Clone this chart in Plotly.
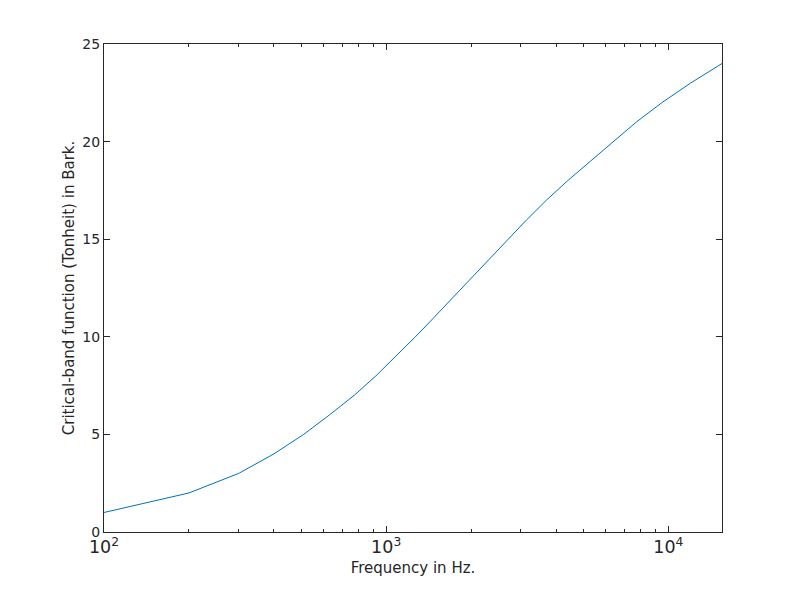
import plotly.graph_objects as go

freq_hz = [100, 200, 300, 400, 510, 630, 770, 920, 1080, 1270, 1480, 1720, 2000,
           2320, 2700, 3150, 3700, 4400, 5300, 6400, 7700, 9500, 12000, 15500]
bark = [1, 2, 3, 4, 5, 6, 7, 8, 9, 10, 11, 12, 13, 14, 15, 16, 17, 18, 19, 20,
        21, 22, 23, 24]
y_ticks = [0, 5, 10, 15, 20, 25]

FONT = "DejaVu Sans"
C = "#262626"
XRANGE = [2, 4.1903]

fig = go.Figure()
fig.add_trace(go.Scatter(x=freq_hz, y=bark, mode="lines",
                         line=dict(color="#0072BD", width=1), hoverinfo="skip"))

fig.update_layout(
    width=800, height=600, plot_bgcolor="white", paper_bgcolor="white",
    showlegend=False, margin=dict(l=96, r=86, t=36, b=76),
    font=dict(family=FONT, size=14, color=C),
    xaxis=dict(type="log", range=XRANGE, dtick=1, exponentformat="power",
               ticks="inside", ticklen=6, tickcolor=C,
               minor=dict(dtick="D1", ticks="inside", ticklen=3, tickcolor=C,
                          showgrid=False),
               showline=True, linecolor=C, linewidth=1, mirror="allticks",
               showgrid=False, zeroline=False,
               tickfont=dict(family=FONT, size=14, color=C),
               title=dict(text="Frequency in Hz.", standoff=6,
                          font=dict(family=FONT, size=15, color=C))),
    yaxis=dict(range=[0, 25], tickmode="array", tickvals=y_ticks, ticks="inside",
               ticklen=6, tickcolor=C, showline=True, linecolor=C, linewidth=1,
               mirror="allticks", showgrid=False, zeroline=False,
               tickfont=dict(family=FONT, size=14, color=C),
               title=dict(text="Critical-band function (Tonheit) in Bark.", standoff=4,
                          font=dict(family=FONT, size=15, color=C))),
)

fig.write_html("out.html")
